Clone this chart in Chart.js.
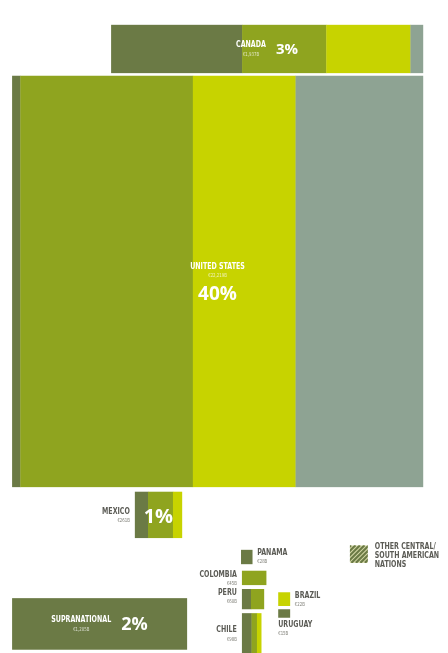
<!DOCTYPE html>
<html>
<head>
<meta charset="utf-8">
<script src="https://cdn.jsdelivr.net/npm/chart.js@4"></script>
<style>
  html, body { margin: 0; padding: 0; background: #fff; }
  #wrap { width: 448px; height: 653px; }
</style>
</head>
<body>
<div id="wrap"><canvas id="c" width="448" height="653"></canvas></div>
<script>
// --- data ---
const countries = ['CANADA', 'UNITED STATES', 'MEXICO', 'PANAMA', 'COLOMBIA', 'PERU', 'CHILE', 'BRAZIL', 'URUGUAY', 'SUPRANATIONAL'];
const amounts = ['€1,937B', '€22,219B', '€261B', '€28B', '€45B', '€60B', '€98B', '€22B', '€15B', '€1,205B'];
const shares = ['3%', '40%', '1%', '', '', '', '', '', '', '2%'];
// breakdown of each block (% of its width)
const partDark  = [42,  2, 28, 100,   0, 41, 50,   0, 100, 100];
const partOlive = [27, 42, 53,   0, 100, 59, 28,   0,   0,   0];
const partLime  = [27, 25, 19,   0,   0,  0, 22, 100,   0,   0];
const partGray  = [ 4, 31,  0,   0,   0,  0,  0,   0,   0,   0];
const legendText = ['OTHER CENTRAL/', 'SOUTH AMERICAN', 'NATIONS'];

// --- layout (axis units, 0-100 on both axes) ---
const boxes = [
  [24.8, 94.4,  3.8, 11.2],
  [ 2.7, 94.4, 11.6, 74.6],
  [30.1, 40.6, 75.3, 82.4],
  [53.8, 56.3, 84.2, 86.4],
  [54.0, 59.4, 87.4, 89.6],
  [54.0, 58.9, 90.2, 93.3],
  [54.0, 58.3, 93.9, 100],
  [62.1, 64.7, 90.7, 92.8],
  [62.1, 64.7, 93.3, 94.6],
  [ 2.7, 41.7, 91.6, 99.5]
];
// where the label goes: inline, stacked, left-mid, left-top, right-top, below
const labelPos = ['inline', 'stacked', 'left-mid', 'right-top', 'left-top', 'left-top', 'left-mid', 'right-top', 'below', 'inline'];
const legendBox = [78.1, 82.1, 83.5, 86.2];

const colors = ['#6b7a45', '#8fa41f', '#c7d300', '#8ea393'];
const parts = [partDark, partOlive, partLime, partGray];

const NAME_FONT = "bold 9px 'DejaVu Sans Condensed', 'Liberation Sans Narrow', sans-serif";
const AMT_FONT = "5.5px 'DejaVu Sans Condensed', sans-serif";
const PCT_FONT = px => "bold " + px + "px 'Open Sans', sans-serif";
const SQUEEZE = 0.78;

// condensed text via maxWidth
function narrowText(ctx, s, x, y) {
  const w = ctx.measureText(s).width * SQUEEZE;
  ctx.fillText(s, x, y, w);
  return w;
}

const blocksPlugin = {
  id: 'blocks',
  afterDraw(chart) {
    const ctx = chart.ctx;
    const xs = chart.scales.x, ys = chart.scales.y;
    ctx.save();
    countries.forEach((name, i) => {
      const b = boxes[i];
      const l = xs.getPixelForValue(b[0]), r = xs.getPixelForValue(b[1]);
      const t = ys.getPixelForValue(b[2]), bt = ys.getPixelForValue(b[3]);
      let cur = l;
      parts.forEach((p, k) => {
        const w = (r - l) * p[i] / 100;
        if (w > 0) {
          ctx.fillStyle = colors[k];
          ctx.fillRect(cur, t, w + 0.3, bt - t);
        }
        cur += w;
      });

      // labels
      const cx = (l + r) / 2, cy = (t + bt) / 2;
      ctx.textBaseline = 'middle';
      const pos = labelPos[i];
      if (pos === 'inline') {
        ctx.font = NAME_FONT;
        const nw = ctx.measureText(name).width * SQUEEZE;
        const pctSize = i === 0 ? 15 : 18;
        ctx.font = PCT_FONT(pctSize);
        const pw = ctx.measureText(shares[i]).width;
        const gap = 10;
        const start = cx - (nw + gap + pw) / 2;
        ctx.fillStyle = '#fff';
        ctx.textAlign = 'center';
        ctx.font = NAME_FONT;
        narrowText(ctx, name, start + nw / 2, cy - 4);
        ctx.fillStyle = 'rgba(255,255,255,0.75)';
        ctx.font = AMT_FONT;
        narrowText(ctx, amounts[i], start + nw / 2, cy + 6);
        ctx.fillStyle = '#fff';
        ctx.textAlign = 'left';
        ctx.font = PCT_FONT(pctSize);
        ctx.fillText(shares[i], start + nw + gap, cy + 1);
      } else if (pos === 'stacked') {
        ctx.textAlign = 'center';
        ctx.fillStyle = '#fff';
        ctx.font = NAME_FONT;
        narrowText(ctx, name, cx, cy - 15);
        ctx.fillStyle = 'rgba(255,255,255,0.75)';
        ctx.font = AMT_FONT;
        narrowText(ctx, amounts[i], cx, cy - 6);
        ctx.fillStyle = '#fff';
        ctx.font = PCT_FONT(19);
        ctx.fillText(shares[i], cx, cy + 13);
      } else {
        let tx, ty, align;
        if (pos === 'left-mid') { tx = l - 5; ty = cy - 3; align = 'right'; }
        if (pos === 'left-top') { tx = l - 5; ty = t + 4; align = 'right'; }
        if (pos === 'right-top') { tx = r + 5; ty = t + 3; align = 'left'; }
        if (pos === 'below') { tx = l; ty = bt + 7; align = 'left'; }
        ctx.textAlign = align;
        ctx.fillStyle = '#5b5b55';
        ctx.font = NAME_FONT;
        narrowText(ctx, name, tx, ty);
        ctx.fillStyle = '#7a7a72';
        ctx.font = AMT_FONT;
        narrowText(ctx, amounts[i], tx, ty + 9);
        if (shares[i]) {
          ctx.textAlign = 'center';
          ctx.fillStyle = '#fff';
          ctx.font = PCT_FONT(20);
          ctx.fillText(shares[i], cx, cy + 2);
        }
      }
    });

    // hatched legend swatch
    const lx = xs.getPixelForValue(legendBox[0]), rx = xs.getPixelForValue(legendBox[1]);
    const ly = ys.getPixelForValue(legendBox[2]), by = ys.getPixelForValue(legendBox[3]);
    ctx.save();
    ctx.beginPath();
    ctx.rect(lx, ly, rx - lx, by - ly);
    ctx.clip();
    ctx.fillStyle = '#d6d9a8';
    ctx.fillRect(lx, ly, rx - lx, by - ly);
    ctx.strokeStyle = '#6b7a45';
    ctx.lineWidth = 2.2;
    for (let d = -30; d < 40; d += 4.5) {
      ctx.beginPath();
      ctx.moveTo(lx + d, by);
      ctx.lineTo(lx + d + (by - ly), ly);
      ctx.stroke();
    }
    ctx.restore();
    ctx.textAlign = 'left';
    ctx.textBaseline = 'middle';
    ctx.fillStyle = '#5b5b55';
    ctx.font = "bold 9px 'DejaVu Sans Condensed', sans-serif";
    legendText.forEach((line, k) => narrowText(ctx, line, rx + 7, ly + 1 + k * 9));
    ctx.restore();
  }
};

new Chart(document.getElementById('c'), {
  type: 'scatter',
  data: { datasets: [{ data: [] }] },
  options: {
    responsive: false,
    animation: false,
    devicePixelRatio: 1,
    layout: { padding: 0 },
    plugins: { legend: { display: false }, tooltip: { enabled: false } },
    scales: {
      x: { type: 'linear', min: 0, max: 100, display: false },
      y: { type: 'linear', min: 0, max: 100, reverse: true, display: false }
    }
  },
  plugins: [blocksPlugin]
});
</script>
</body>
</html>
